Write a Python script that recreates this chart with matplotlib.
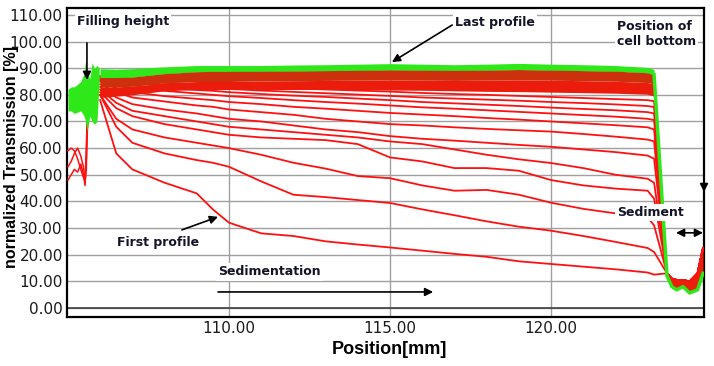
import matplotlib
matplotlib.use("Agg")
import matplotlib.pyplot as plt

x_pos = [106.0, 106.5, 107.0, 108.0, 109.0, 109.5, 110.0, 111.0, 112.0, 113.0, 114.0,
         115.0, 116.0, 117.0, 118.0, 119.0, 120.0, 121.0, 122.0, 123.0, 123.2]

# transmission [%] of the single profiles, first (lowest) to later ones
profile_01 = [78, 58, 52, 47, 43, 37, 32, 28, 27, 25, 23.8, 22.7, 21.5, 20.3, 19.2, 17.5, 16.5, 15.5, 14.5, 13.3, 12.5]
profile_02 = [80, 68, 62, 58, 55.5, 54.5, 53, 47.5, 42.5, 41.6, 40.5, 39.4, 37, 34.8, 32.5, 30.5, 29, 27, 24.8, 22.5, 21]
profile_03 = [80, 71, 67, 64, 62, 61, 60, 57.5, 54.5, 52.3, 49.5, 48.7, 46, 44, 44.3, 42.5, 39.5, 37.2, 35.5, 34, 31]
profile_04 = [81, 75, 72, 69, 67, 66, 65, 64, 63.5, 63, 61.5, 56.5, 55, 52.5, 52.5, 51.5, 48, 46, 44.8, 44, 41]
profile_05 = [82, 77, 74, 72, 70, 69, 68, 67, 66, 65, 64, 62.5, 61.5, 59.5, 57.5, 55.8, 54.4, 52.5, 50, 48.5, 47]
profile_06 = [83, 79, 76.5, 74.5, 73, 72, 71, 70, 68.5, 67, 66, 64.5, 63.5, 62.8, 62, 61.2, 60.5, 59.5, 58.5, 57.2, 56]
profile_07 = [84, 81, 79, 77.5, 76, 75.5, 74.5, 73.5, 72.5, 71, 70, 69, 68.5, 67.8, 67.2, 66.7, 66.2, 65.3, 64.3, 63.2, 62.5]
profile_08 = [85, 82.5, 81, 79.5, 78.5, 78, 77.3, 76.5, 75.5, 74.8, 74, 73.2, 72.6, 72, 71.3, 70.7, 70, 69.3, 68.6, 67.8, 67]
profile_09 = [85.5, 83.5, 82.5, 81.5, 80.5, 80, 79.5, 78.8, 78, 77.3, 76.7, 76, 75.3, 74.8, 74.2, 73.6, 73, 72.4, 71.8, 71, 70.5]
profile_10 = [86, 84.5, 83.5, 82.5, 81.8, 81.5, 81, 80.3, 79.7, 79.2, 78.6, 78, 77.3, 76.8, 76.3, 75.8, 75.2, 74.7, 74.2, 73.5, 73]
profile_11 = [86.5, 85.2, 84.5, 83.5, 83, 82.6, 82.2, 81.6, 81.1, 80.6, 80.1, 79.6, 79, 78.6, 78.2, 77.8, 77.3, 76.9, 76.4, 75.8, 75.4]
profile_12 = [87, 86, 85.3, 84.5, 84, 83.6, 83.3, 82.8, 82.4, 82, 81.6, 81.2, 80.7, 80.3, 80, 79.6, 79.2, 78.8, 78.4, 78, 77.6]

# dense bundle of the later profiles (band edges) and the last profile (green)
dense_low = [79, 79.5, 80, 81.5, 82, 82, 82, 82, 82, 82, 82, 81.8, 81.7, 81.5, 81.3, 81.2, 81.0, 80.8, 80.6, 80.2, 79.5]
dense_mid = [83, 83, 83.2, 84.5, 85, 85, 85, 85.2, 85.3, 85.4, 85.5, 85.6, 85.5, 85.4, 85.5, 85.6, 85.5, 85.3, 85.1, 84.6, 84]
green_low = [86.5, 86.5, 86.7, 88.0, 88.7, 88.8, 88.8, 88.9, 89.0, 89.1, 89.2, 89.4, 89.3, 89.2, 89.3, 89.5, 89.3, 89.1, 88.9, 88.3, 87.5]
green_high = [89.8, 89.6, 89.8, 90.5, 91.0, 91.0, 91.0, 91.0, 91.2, 91.3, 91.5, 91.7, 91.5, 91.3, 91.5, 91.8, 91.5, 91.3, 91.0, 90.3, 89.5]

# cell bottom / sediment trough
trough_x = [123.6, 123.75, 123.9, 124.1, 124.3, 124.55, 124.72]
trough_red = [13, 11, 10.5, 10.5, 9.9, 13, 22.5]
trough_green = [12, 8, 6.8, 8, 5.6, 6.8, 13]

# left part (meniscus / filling height)
left_x = [105.0, 105.1, 105.2, 105.3, 105.4, 105.5, 105.55, 105.6, 105.68, 105.75, 105.82, 105.9, 105.97]
green_left_low = [74, 74, 73, 73.5, 74, 72, 70, 66.5, 72, 70, 69, 70, 84]
green_left_high = [82, 83, 83, 84, 85, 88, 93, 89, 86, 92, 90, 91, 90]
red_left_x = [105.0, 105.1, 105.2, 105.3, 105.4, 105.48, 105.53, 105.57, 105.6, 105.65]
red_left_1 = [59, 60, 59, 56, 52, 49, 48, 60, 72, 80]
red_left_2 = [53, 55, 58, 60, 57, 53, 47, 52, 66, 78]
red_left_3 = [48, 50, 52, 51, 54, 50, 46, 56, 70, 80]

yticks = [0, 10, 20, 30, 40, 50, 60, 70, 80, 90, 100, 110]
xticks = [110, 115, 120]

red = "#ff1010"
green = "#2ee81a"
txt = "#141428"

fig = plt.figure(figsize=(7.14, 3.66), dpi=100)
ax = fig.add_axes([0.0938, 0.1339, 0.8922, 0.8443])

profiles = [profile_01, profile_02, profile_03, profile_04, profile_05, profile_06,
            profile_07, profile_08, profile_09, profile_10, profile_11, profile_12]
for p in profiles:
    ax.plot(x_pos + trough_x, p + trough_red, color=red, lw=1.3, zorder=3)

# bundle of later profiles
ax.fill_between(x_pos, dense_low, dense_mid, color="#ec1c0c", lw=0, zorder=4)
ax.fill_between(x_pos, dense_mid, green_low, color="#cc300c", lw=0, zorder=4)
ax.plot(x_pos, green_low, color="#a05a10", lw=1.0, zorder=5)
ax.fill_between(x_pos, green_low, green_high, color=green, lw=0, zorder=5)
ax.fill_between(trough_x, trough_green, trough_red, color="#e8200c", lw=0, zorder=4)
ax.plot([x_pos[-1]] + trough_x, [green_low[-1]] + trough_green, color=green, lw=2.5, zorder=5)

# left part
for r in [red_left_1, red_left_2, red_left_3]:
    ax.plot(red_left_x, r, color=red, lw=1.1, zorder=3)
ax.fill_between(left_x, green_left_low, green_left_high, color=green, lw=0, zorder=5)

# axes
ax.set_xlim(104.97, 124.75)
ax.set_ylim(-3.4, 112.6)
ax.set_yticks(yticks)
ax.set_yticklabels(["%.2f" % v for v in yticks])
ax.set_xticks(xticks)
ax.set_xticklabels(["%.2f" % v for v in xticks])
ax.tick_params(length=0, labelsize=11, labelcolor="#1a1a1a")
ax.tick_params(axis="y", pad=3)
ax.tick_params(axis="x", pad=3)
for lab in ax.get_xticklabels() + ax.get_yticklabels():
    lab.set_family(["Liberation Sans Narrow", "DejaVu Sans"])
ax.grid(color="#a0a0a0", lw=1.0, zorder=1)
ax.set_axisbelow(True)
ax.axhline(0, color="#404040", lw=1.2, zorder=2)
for s in ax.spines.values():
    s.set_linewidth(1.6)
    s.set_color("black")

ax.set_ylabel("normalized Transmission [%]", fontsize=11.5, fontweight="bold",
              family="Liberation Sans")
ax.yaxis.set_label_coords(-0.076, 0.518)
ax.set_xlabel("Position[mm]", fontsize=13, fontweight="bold", family="Liberation Sans")
ax.xaxis.set_label_coords(0.5055, -0.078)

# annotations
def note(x, y, s):
    ax.text(x, y, s, fontsize=9, fontweight="bold", family="DejaVu Sans", color=txt,
            ha="left", va="center", zorder=10,
            bbox=dict(facecolor="white", edgecolor="none", pad=1.5))

def arrow(tail, head, style="-|>"):
    ax.annotate("", xy=head, xytext=tail, annotation_clip=False, zorder=11,
                arrowprops=dict(arrowstyle=style, color="black", lw=1.2,
                                mutation_scale=12, shrinkA=0, shrinkB=0))

note(105.28, 107.7, "Filling height")
arrow((105.59, 99.5), (105.59, 85.6))
note(117.02, 107.0, "Last profile")
arrow((116.93, 106.2), (115.06, 92.3))
note(122.05, 102.9, "Position of\ncell bottom")
arrow((124.75, 96.8), (124.75, 43.5))
note(122.05, 35.7, "Sediment")
arrow((123.88, 28.2), (124.72, 28.2), "<|-|>")
note(106.52, 24.4, "First profile")
arrow((108.54, 29.3), (109.66, 34.2))
note(109.66, 13.5, "Sedimentation")
arrow((109.66, 6.0), (116.34, 6.0))

fig.savefig("out.png", dpi=100)
